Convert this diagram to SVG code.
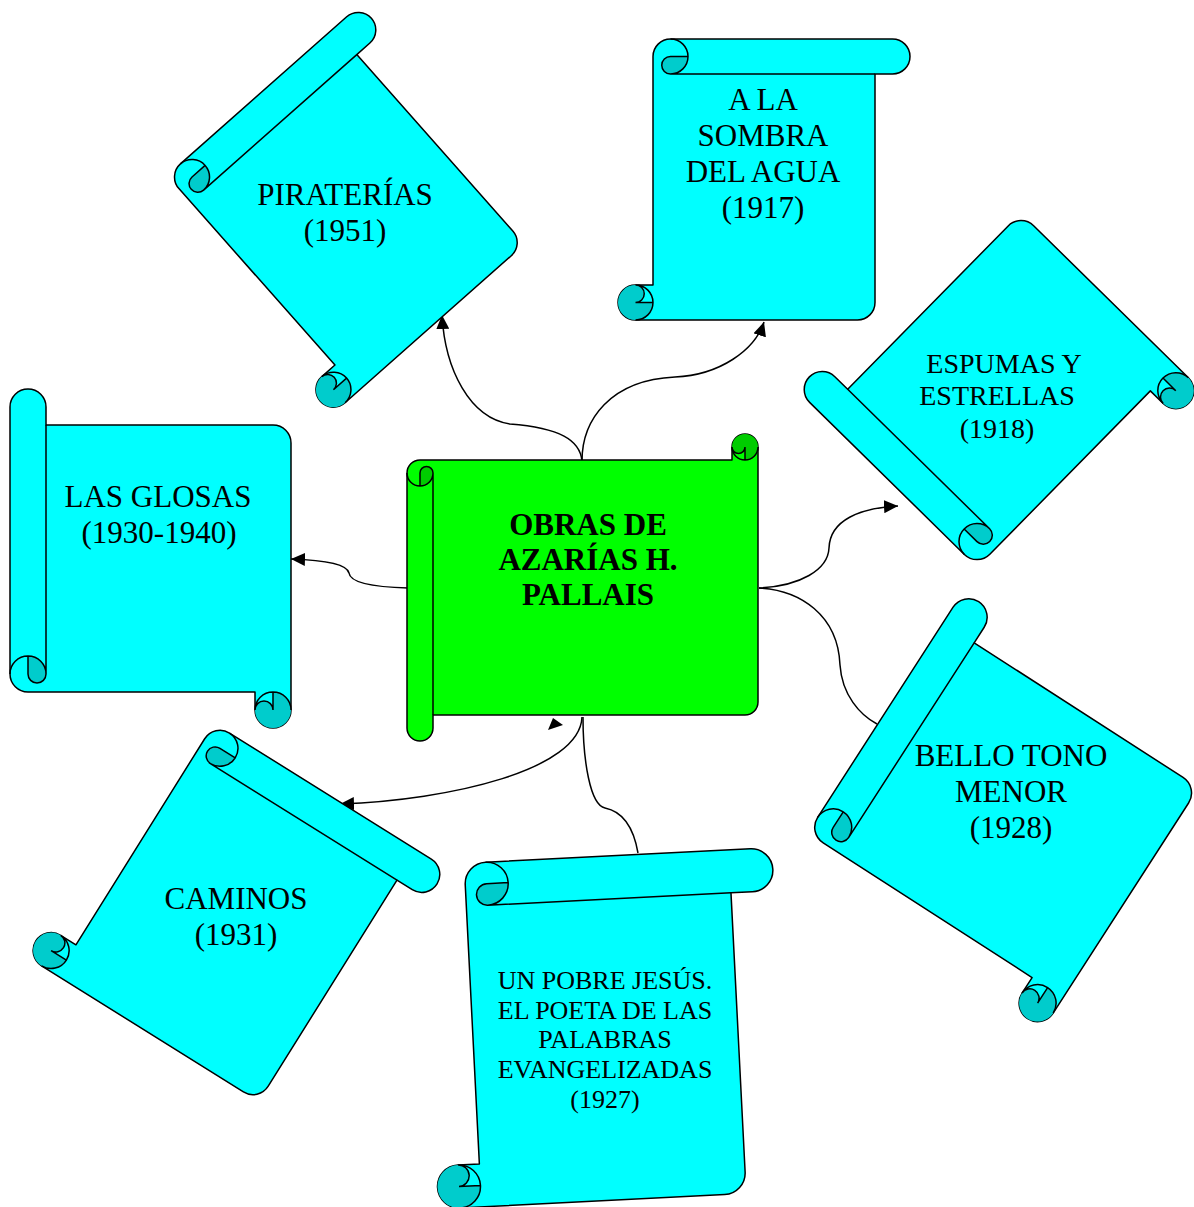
<svg xmlns="http://www.w3.org/2000/svg" width="1194" height="1207" viewBox="0 0 1194 1207">
<style>
.bd{fill:#00FFFF;stroke:#000;stroke-width:1.5;stroke-linejoin:round}
.dk{fill:#00CCCC;stroke:none}
.ln{fill:none;stroke:#000;stroke-width:1.5}
.gr .bd{fill:#00FF00}
.gr .dk{fill:#00CC00}
.t{font-family:"Liberation Serif","Times New Roman",serif;font-size:31px;text-anchor:middle;fill:#000}
.t28{font-size:28px}
.t26{font-size:26px}
.b{font-weight:bold}
.cn{fill:none;stroke:#000;stroke-width:1.5}
</style>
<defs>
<marker id="ah" markerUnits="userSpaceOnUse" markerWidth="15" markerHeight="13" refX="14" refY="6.5" orient="auto" viewBox="0 0 15 13">
<path d="M0,0 L14,6.5 L0,13 Z" fill="#000"/>
</marker>
</defs>
<g id="connectors">
<path class="cn" d="M582,461 C580,440 560,428 510,424 C470,418 445,370 442,315" marker-end="url(#ah)"/>
<path class="cn" d="M582,461 C582,420 610,380 675,377 C720,375 755,350 764,322" marker-end="url(#ah)"/>
<path class="cn" d="M759,588 C800,586 828,570 829,548 C830,520 860,508 898,506" marker-end="url(#ah)"/>
<path class="cn" d="M759,588 C800,590 838,615 840,665 C842,695 860,715 877,724"/>
<path class="cn" d="M408,588 C370,587 350,582 349,573 C347,563 320,560 291,559" marker-end="url(#ah)"/>
<path class="cn" d="M582,717 C580,770 450,800 340,804" marker-end="url(#ah)"/>
<path class="cn" d="M583,717 C583,760 590,805 605,808 C625,812 634,830 638,853"/>
<path d="M553,718 L563,725 L548,730 Z" fill="#000"/>
</g>
<g id="piraterias">
<g transform="translate(141.1,198.7) rotate(-41.5)">
<path class="bd" d="M35,253 L35,17.5 A17.5,17.5 0 0 1 52.5,0 L274.5,0 A17.5,17.5 0 0 1 274.5,35 L257,35 L257,270.5 A17.5,17.5 0 0 1 239.5,288 L17.5,288 A17.5,17.5 0 0 1 17.5,253 Z"/>
<path class="dk" d="M70,17.5 A17.5,17.5 0 0 1 52.5,35 A8.75,8.75 0 0 1 52.5,17.5 Z M35,270.5 A17.5,17.5 0 1 1 17.5,253 A8.75,8.75 0 0 1 17.5,270.5 Z"/>
<path class="ln" d="M52.5,0 A17.5,17.5 0 0 1 52.5,35 A8.75,8.75 0 0 1 52.5,17.5 L70,17.5 M52.5,35 L257,35 M17.5,253 A8.75,8.75 0 0 1 17.5,270.5 L35,270.5 M17.5,288 A17.5,17.5 0 0 0 17.5,253"/>
</g>
<text class="t" x="345" y="205">PIRATERÍAS</text>
<text class="t" x="345" y="241">(1951)</text>
</g>
<g id="sombra">
<g transform="translate(618,39)">
<path class="bd" d="M35,246 L35,17.5 A17.5,17.5 0 0 1 52.5,0 L274.5,0 A17.5,17.5 0 0 1 274.5,35 L257,35 L257,263.5 A17.5,17.5 0 0 1 239.5,281 L17.5,281 A17.5,17.5 0 0 1 17.5,246 Z"/>
<path class="dk" d="M70,17.5 A17.5,17.5 0 0 1 52.5,35 A8.75,8.75 0 0 1 52.5,17.5 Z M35,263.5 A17.5,17.5 0 1 1 17.5,246 A8.75,8.75 0 0 1 17.5,263.5 Z"/>
<path class="ln" d="M52.5,0 A17.5,17.5 0 0 1 52.5,35 A8.75,8.75 0 0 1 52.5,17.5 L70,17.5 M52.5,35 L257,35 M17.5,246 A8.75,8.75 0 0 1 17.5,263.5 L35,263.5 M17.5,281 A17.5,17.5 0 0 0 17.5,246"/>
</g>
<text class="t" x="763" y="110">A LA</text>
<text class="t" x="763" y="146">SOMBRA</text>
<text class="t" x="763" y="182">DEL AGUA</text>
<text class="t" x="763" y="218">(1917)</text>
</g>
<g id="espumas">
<g transform="translate(1002.9,592.3) rotate(-135.5)">
<path class="bd" d="M36,247 L36,18 A18,18 0 0 1 54,0 L271,0 A18,18 0 0 1 271,36 L253,36 L253,265 A18,18 0 0 1 235,283 L18,283 A18,18 0 0 1 18,247 Z"/>
<path class="dk" d="M72,18 A18,18 0 0 1 54,36 A9,9 0 0 1 54,18 Z M36,265 A18,18 0 1 1 18,247 A9,9 0 0 1 18,265 Z"/>
<path class="ln" d="M54,0 A18,18 0 0 1 54,36 A9,9 0 0 1 54,18 L72,18 M54,36 L253,36 M18,247 A9,9 0 0 1 18,265 L36,265 M18,283 A18,18 0 0 0 18,247"/>
</g>
<text class="t t28" x="1004" y="373">ESPUMAS Y</text>
<text class="t t28" x="997" y="405">ESTRELLAS</text>
<text class="t t28" x="997" y="438">(1918)</text>
</g>
<g id="glosas">
<g transform="translate(10,728) rotate(-90)">
<path class="bd" d="M36,245 L36,18 A18,18 0 0 1 54,0 L321,0 A18,18 0 0 1 321,36 L303,36 L303,263 A18,18 0 0 1 285,281 L18,281 A18,18 0 0 1 18,245 Z"/>
<path class="dk" d="M72,18 A18,18 0 0 1 54,36 A9,9 0 0 1 54,18 Z M36,263 A18,18 0 1 1 18,245 A9,9 0 0 1 18,263 Z"/>
<path class="ln" d="M54,0 A18,18 0 0 1 54,36 A9,9 0 0 1 54,18 L72,18 M54,36 L303,36 M18,245 A9,9 0 0 1 18,263 L36,263 M18,281 A18,18 0 0 0 18,245"/>
</g>
<text class="t" x="158" y="507">LAS GLOSAS</text>
<text class="t" x="159" y="543">(1930-1940)</text>
</g>
<g id="centro" class="gr">
<g transform="matrix(0,1,1,0,407,434)">
<path class="bd" d="M26,325 L26,13 A13,13 0 0 1 39,0 L294,0 A13,13 0 0 1 294,26 L281,26 L281,338 A13,13 0 0 1 268,351 L13,351 A13,13 0 0 1 13,325 Z"/>
<path class="dk" d="M52,13 A13,13 0 0 1 39,26 A6.5,6.5 0 0 1 39,13 Z M26,338 A13,13 0 1 1 13,325 A6.5,6.5 0 0 1 13,338 Z"/>
<path class="ln" d="M39,0 A13,13 0 0 1 39,26 A6.5,6.5 0 0 1 39,13 L52,13 M39,26 L281,26 M13,325 A6.5,6.5 0 0 1 13,338 L26,338 M13,351 A13,13 0 0 0 13,325"/>
</g>
<text class="t b" x="588" y="535">OBRAS DE</text>
<text class="t b" x="588" y="570">AZARÍAS H.</text>
<text class="t b" x="588" y="605">PALLAIS</text>
</g>
<g id="bello">
<g transform="translate(787.6,864) rotate(-57.2)">
<path class="bd" d="M37,267 L37,18.5 A18.5,18.5 0 0 1 55.5,0 L305.5,0 A18.5,18.5 0 0 1 305.5,37 L287,37 L287,285.5 A18.5,18.5 0 0 1 268.5,304 L18.5,304 A18.5,18.5 0 0 1 18.5,267 Z"/>
<path class="dk" d="M74,18.5 A18.5,18.5 0 0 1 55.5,37 A9.25,9.25 0 0 1 55.5,18.5 Z M37,285.5 A18.5,18.5 0 1 1 18.5,267 A9.25,9.25 0 0 1 18.5,285.5 Z"/>
<path class="ln" d="M55.5,0 A18.5,18.5 0 0 1 55.5,37 A9.25,9.25 0 0 1 55.5,18.5 L74,18.5 M55.5,37 L287,37 M18.5,267 A9.25,9.25 0 0 1 18.5,285.5 L37,285.5 M18.5,304 A18.5,18.5 0 0 0 18.5,267"/>
</g>
<text class="t" x="1011" y="766">BELLO TONO</text>
<text class="t" x="1011" y="802">MENOR</text>
<text class="t" x="1011" y="838">(1928)</text>
</g>
<g id="caminos">
<g transform="translate(183.7,704.4) rotate(32)">
<path class="bd" d="M36,261 L36,18 A18,18 0 0 1 54,0 L292,0 A18,18 0 0 1 292,36 L274,36 L274,279 A18,18 0 0 1 256,297 L18,297 A18,18 0 0 1 18,261 Z"/>
<path class="dk" d="M72,18 A18,18 0 0 1 54,36 A9,9 0 0 1 54,18 Z M36,279 A18,18 0 1 1 18,261 A9,9 0 0 1 18,279 Z"/>
<path class="ln" d="M54,0 A18,18 0 0 1 54,36 A9,9 0 0 1 54,18 L72,18 M54,36 L274,36 M18,261 A9,9 0 0 1 18,279 L36,279 M18,297 A18,18 0 0 0 18,261"/>
</g>
<text class="t" x="236" y="909">CAMINOS</text>
<text class="t" x="236" y="945">(1931)</text>
</g>
<g id="pobre">
<g transform="translate(421.2,865.5) rotate(-2.9)">
<path class="bd" d="M43,301 L43,21.5 A21.5,21.5 0 0 1 64.5,0 L329.5,0 A21.5,21.5 0 0 1 329.5,43 L308,43 L308,322.5 A21.5,21.5 0 0 1 286.5,344 L21.5,344 A21.5,21.5 0 0 1 21.5,301 Z"/>
<path class="dk" d="M86,21.5 A21.5,21.5 0 0 1 64.5,43 A10.75,10.75 0 0 1 64.5,21.5 Z M43,322.5 A21.5,21.5 0 1 1 21.5,301 A10.75,10.75 0 0 1 21.5,322.5 Z"/>
<path class="ln" d="M64.5,0 A21.5,21.5 0 0 1 64.5,43 A10.75,10.75 0 0 1 64.5,21.5 L86,21.5 M64.5,43 L308,43 M21.5,301 A10.75,10.75 0 0 1 21.5,322.5 L43,322.5 M21.5,344 A21.5,21.5 0 0 0 21.5,301"/>
</g>
<text class="t t26" x="605" y="989">UN POBRE JESÚS.</text>
<text class="t t26" x="605" y="1019">EL POETA DE LAS</text>
<text class="t t26" x="605" y="1048">PALABRAS</text>
<text class="t t26" x="605" y="1078">EVANGELIZADAS</text>
<text class="t t26" x="605" y="1108">(1927)</text>
</g>
</svg>
